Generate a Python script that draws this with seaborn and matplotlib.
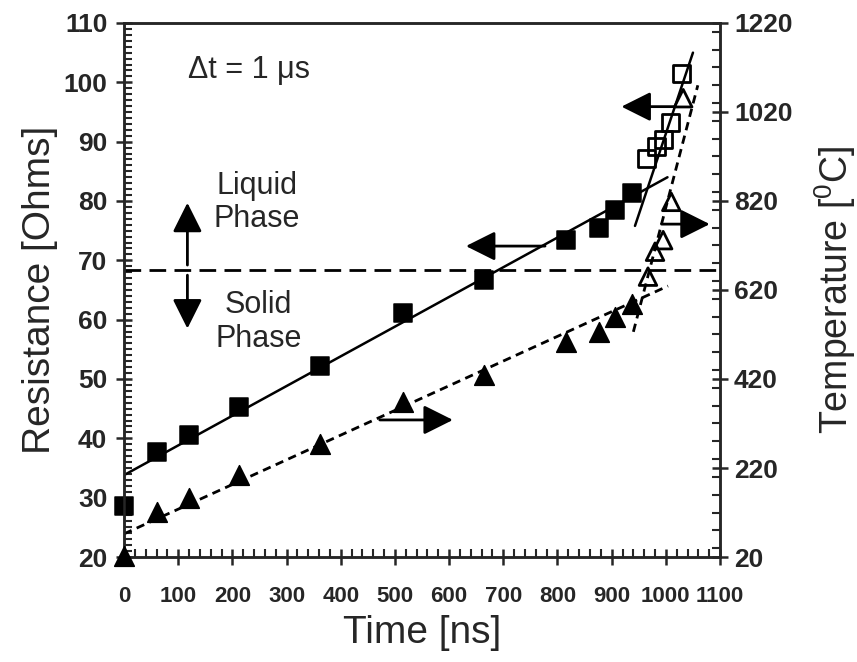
import seaborn as sns
import matplotlib.pyplot as plt
from matplotlib import font_manager
from matplotlib.ticker import MultipleLocator

# resistance (left axis), solid phase and liquid phase
time_res = [0, 60, 120, 212, 362, 514, 664, 816, 876, 907, 937]
resistance = [28.6, 37.7, 40.6, 45.3, 52.2, 61.1, 66.7, 73.5, 75.5, 78.5, 81.4]
time_res_liq = [965, 982, 995, 1008, 1028]
resistance_liq = [87.2, 89.2, 90.3, 93.2, 101.5]

# temperature (right axis)
time_temp = [0, 60, 120, 212, 362, 514, 664, 816, 876, 907, 937]
temperature = [22, 121, 153, 204, 275, 369, 429, 504, 526, 560, 588]
time_temp_liq = [967, 980, 995, 1010, 1032]
temperature_liq = [650, 706, 732, 818, 1051]

# fitted lines
fit_res_t = [0, 1003]
fit_res = [33.8, 84.0]
fit_res_liq_t = [943, 1050]
fit_res_liq = [75.8, 105.0]
fit_temp_t = [0, 1004]
fit_temp = [72, 629]
fit_temp_liq_t = [940, 1059]
fit_temp_liq = [526, 1080]
melt_resistance = 68.4

x_ticks = list(range(0, 1101, 100))
res_ticks = list(range(20, 111, 10))
temp_ticks = list(range(20, 1221, 200))

sns.set_style("ticks")
plt.rcParams["font.family"] = ["Liberation Sans", "DejaVu Sans"]
plt.rcParams["mathtext.fontset"] = "custom"
plt.rcParams["mathtext.rm"] = "Liberation Sans"
plt.rcParams["axes.linewidth"] = 1.8

names = {f.name for f in font_manager.fontManager.ttflist}
narrow = "Liberation Sans Narrow" if "Liberation Sans Narrow" in names else "Liberation Sans"

fig = plt.figure(figsize=(8.57, 6.62), dpi=100)
ax = fig.add_axes([0.1447, 0.1586, 0.6955, 0.8067])
ax2 = ax.twinx()

# lines
sns.lineplot(x=fit_res_t, y=fit_res, ax=ax, color="k", lw=1.8)
sns.lineplot(x=fit_res_liq_t, y=fit_res_liq, ax=ax, color="k", lw=1.8)
ax.axhline(melt_resistance, color="k", lw=2, linestyle=(0, (6, 3)))
sns.lineplot(x=fit_temp_t, y=fit_temp, ax=ax2, color="k", lw=2, linestyle=(0, (3, 2)))
sns.lineplot(x=fit_temp_liq_t, y=fit_temp_liq, ax=ax2, color="k", lw=2, linestyle=(0, (3, 2)))

# markers
sns.scatterplot(x=time_res, y=resistance, ax=ax, marker="s", s=185, color="k",
                edgecolor="k", clip_on=False, zorder=3)
sns.scatterplot(x=time_res_liq, y=resistance_liq, ax=ax, marker="s", s=150,
                facecolor="none", edgecolor="k", linewidth=2, zorder=3)
sns.scatterplot(x=time_temp, y=temperature, ax=ax2, marker="^", s=200, color="k",
                edgecolor="k", clip_on=False, zorder=3)
sns.scatterplot(x=time_temp_liq, y=temperature_liq, ax=ax2, marker="^", s=160,
                facecolor="none", edgecolor="k", linewidth=2, zorder=3)

# arrows
akw = dict(arrowstyle="-|>,head_length=1.0,head_width=0.5", color="k", lw=2,
           mutation_scale=18, shrinkA=0, shrinkB=0)
ax.annotate("", xy=(117, 79.7), xytext=(117, 69.2), arrowprops=akw)
ax.annotate("", xy=(117, 58.5), xytext=(117, 67.5), arrowprops=akw)
ax.annotate("", xy=(631, 72.4), xytext=(777, 72.4), arrowprops=akw)
ax.annotate("", xy=(607, 43.1), xytext=(472, 43.1), arrowprops=akw)
ax.annotate("", xy=(918, 95.9), xytext=(1017, 95.9), arrowprops=akw)
ax.annotate("", xy=(1081, 76.1), xytext=(992, 76.1), arrowprops=akw)

# texts
ax.text(118, 102.1, "\u0394t = 1 \u03bcs", fontsize=22, va="center", ha="left")
ax.text(245, 79.7, "Liquid\nPhase", fontsize=22, va="center", ha="center", linespacing=1.15)
ax.text(248, 59.6, "Solid\nPhase", fontsize=22, va="center", ha="center", linespacing=1.15)

# axes
ax.set_xlim(0, 1100)
ax.set_ylim(20, 110)
ax2.set_ylim(20, 1220)
ax.set_xticks(x_ticks)
ax.set_yticks(res_ticks)
ax2.set_yticks(temp_ticks)
ax.xaxis.set_minor_locator(MultipleLocator(20))
ax.yaxis.set_minor_locator(MultipleLocator(1))
ax2.yaxis.set_minor_locator(MultipleLocator(40))

ax.tick_params(which="major", direction="inout", length=12, width=1.8, top=False, right=False)
ax.tick_params(which="minor", direction="in", length=6, width=1.5, top=False, right=False)
ax.tick_params(axis="x", which="major", pad=15)
ax.tick_params(axis="y", which="major", pad=6)
ax2.tick_params(which="major", direction="inout", length=12, width=1.8, pad=4)
ax2.tick_params(which="minor", direction="in", length=6, width=1.5)

for lbl in ax.get_yticklabels() + ax2.get_yticklabels():
    lbl.set_fontsize(19)
    lbl.set_fontweight("bold")
for lbl in ax.get_xticklabels():
    lbl.set_fontsize(16)
    lbl.set_fontweight("bold")
    lbl.set_family(narrow)

ax.set_xlabel("Time [ns]", fontsize=28)
ax.set_ylabel("Resistance [Ohms]", fontsize=28)
ax2.set_ylabel("Temperature [$^0$C]", fontsize=27)
ax.xaxis.set_label_coords(0.5, -0.108)
ax.yaxis.set_label_coords(-0.11, 0.5)
ax2.yaxis.set_label_coords(1.155, 0.5)

for a in (ax, ax2):
    for sp in a.spines.values():
        sp.set_linewidth(1.8)
        sp.set_visible(True)

fig.savefig("out.png", dpi=100, facecolor="white")
